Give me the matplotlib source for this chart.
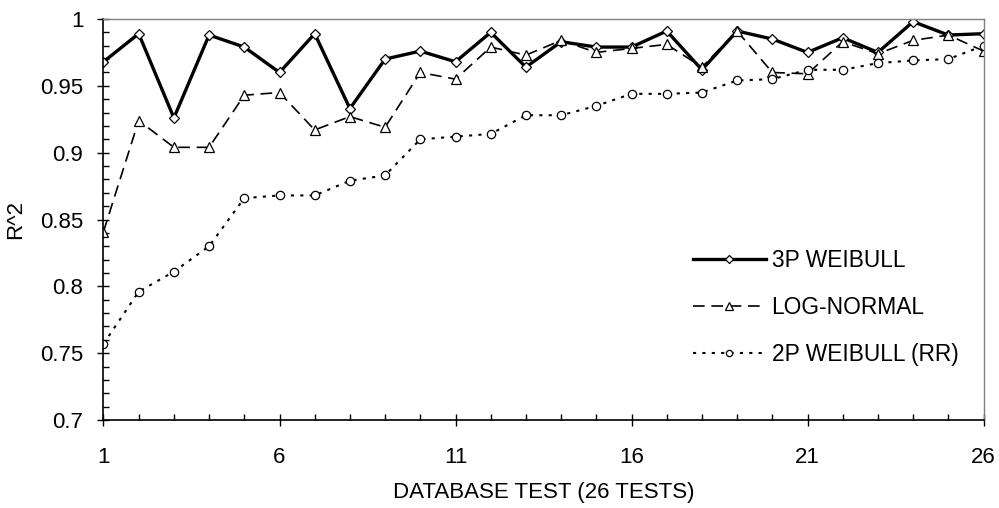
import matplotlib
matplotlib.use('Agg')
import matplotlib.pyplot as plt
from matplotlib.ticker import MultipleLocator

plt.rcParams['font.family'] = ['Liberation Sans', 'DejaVu Sans']

tests = list(range(1, 27))

weibull_3p = [0.968, 0.989, 0.926, 0.988, 0.979, 0.960, 0.989, 0.933, 0.970, 0.976,
              0.968, 0.990, 0.964, 0.983, 0.979, 0.979, 0.991, 0.962, 0.991, 0.985,
              0.975, 0.986, 0.975, 0.998, 0.988, 0.989]
log_normal = [0.841, 0.924, 0.904, 0.904, 0.943, 0.945, 0.917, 0.927, 0.919, 0.960,
              0.955, 0.979, 0.973, 0.984, 0.975, 0.978, 0.981, 0.964, 0.991, 0.960,
              0.959, 0.983, 0.974, 0.984, 0.988, 0.976]
weibull_2p = [0.757, 0.796, 0.811, 0.830, 0.866, 0.868, 0.868, 0.879, 0.883, 0.910,
              0.912, 0.914, 0.928, 0.928, 0.935, 0.944, 0.944, 0.945, 0.954, 0.955,
              0.962, 0.962, 0.967, 0.969, 0.970, 0.980]

labels = ['3P WEIBULL', 'LOG-NORMAL', '2P WEIBULL (RR)']

fs = 16

fig = plt.figure(figsize=(9.99, 5.08), dpi=100)
ax = fig.add_axes([0.1036, 0.1732, 0.8809, 0.7894])

ax.plot(tests, weibull_3p, '-', color='black', lw=2.4, marker='D', ms=5,
        mfc='white', mec='black', mew=0.9, label=labels[0])
ax.plot(tests, log_normal, color='black', lw=1.2, dashes=(7, 4), marker='^', ms=7,
        mfc='white', mec='black', mew=0.9, label=labels[1])
ax.plot(tests, weibull_2p, color='black', lw=1.5, dashes=(1.5, 3), marker='o', ms=6,
        mfc='white', mec='black', mew=0.9, label=labels[2])

ax.set_xlim(1, 26)
ax.set_ylim(0.7, 1.0)
ax.xaxis.set_minor_locator(MultipleLocator(1))
ax.yaxis.set_minor_locator(MultipleLocator(0.01))
ax.set_xticks([1, 6, 11, 16, 21, 26])
ax.set_yticks([0.7, 0.75, 0.8, 0.85, 0.9, 0.95, 1.0])
ax.set_yticklabels(['0.7', '0.75', '0.8', '0.85', '0.9', '0.95', '1'])

ax.tick_params(which='major', direction='inout', length=9, width=1, labelsize=fs)
ax.tick_params(axis='x', which='major', pad=15)
ax.tick_params(axis='y', which='major', pad=10)
ax.tick_params(which='minor', direction='in', length=4, width=1)
for s in ['left', 'bottom']:
    ax.spines[s].set_color('black')
    ax.spines[s].set_linewidth(1.2)
for s in ['top', 'right']:
    ax.spines[s].set_color('#808080')
    ax.spines[s].set_linewidth(1)

ax.set_xlabel('DATABASE TEST (26 TESTS)', fontsize=fs, labelpad=10)
ax.set_ylabel('R^2', fontsize=fs, labelpad=10)

ax.legend(loc='upper left', bbox_to_anchor=(0.6937, 0.51), bbox_transform=fig.transFigure,
          frameon=False, fontsize=16.4, borderpad=0, borderaxespad=0,
          handlelength=3.2, handletextpad=0.25, labelspacing=1.05, markerscale=0.75)

fig.savefig('out.png', dpi=100)
